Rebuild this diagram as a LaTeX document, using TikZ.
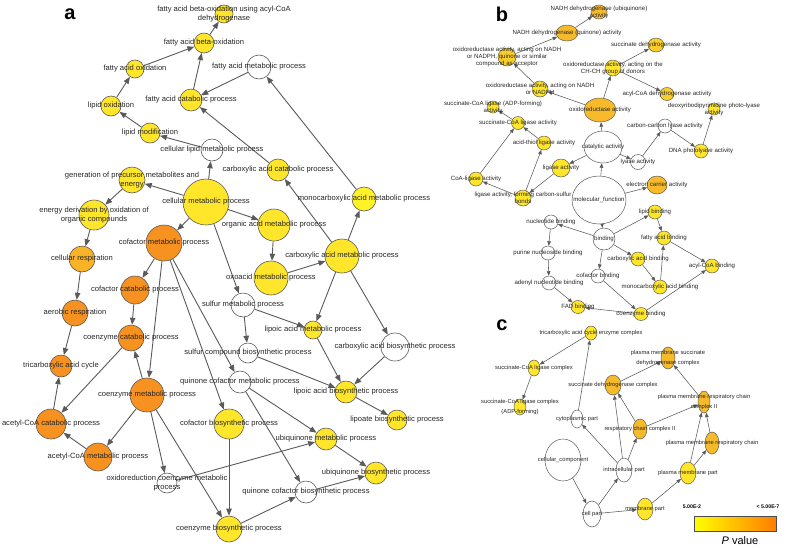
\documentclass[tikz,border=0pt]{standalone}
\usepackage{fontspec}
\setmainfont{Liberation Sans}
\usetikzlibrary{arrows.meta,shapes.geometric,backgrounds}
\definecolor{sarga}{RGB}{255,230,42}
\definecolor{vsarga}{RGB}{255,243,40}
\definecolor{narancs}{RGB}{247,146,32}
\definecolor{vnarancs}{RGB}{250,178,38}
\definecolor{bnarancs}{RGB}{247,186,42}
\definecolor{fsarga}{RGB}{250,205,40}
\definecolor{perem}{RGB}{90,90,90}
\tikzset{
  kor/.style={circle,draw=perem,line width=.6pt,inner sep=0pt},
  tojas/.style={ellipse,draw=perem,line width=.5pt,inner sep=0pt},
  la/.style={font=\fontsize{7.6}{9.5}\selectfont,text=black!85,inner sep=0pt,align=center},
  lb/.style={font=\fontsize{6.1}{7}\selectfont,text=black!85,inner sep=0pt,align=center},
  lc/.style={font=\fontsize{5.8}{9.5}\selectfont,text=black!85,inner sep=0pt,align=center},
  nyA/.style={draw=perem,line width=.9pt,-{Triangle[length=7pt,width=5.5pt]}},
  nyB/.style={draw=perem,line width=.55pt,-{Triangle[length=4.5pt,width=3.6pt]}},
  betu/.style={font=\bfseries\fontsize{20}{20}\selectfont},
}
\begin{document}
\begin{tikzpicture}[x=1pt,y=-1pt]
  \useasboundingbox (0,0) rectangle (787,547);
  % panel a
  \node[betu] (pa) at (70,14) {a};
  \node[kor,fill=sarga,minimum size=18pt,label={[la]center:{fatty acid beta-oxidation using acyl-CoA\\dehydrogenase}}] (fbu) at (224,14) {};
  \node[kor,fill=sarga,minimum size=20pt,label={[la]center:{fatty acid beta-oxidation}}] (fbo) at (204,43) {};
  \node[kor,fill=sarga,minimum size=18pt,label={[la]center:{fatty acid oxidation}}] (fox) at (135,69) {};
  \node[kor,fill=white,minimum size=24pt,label={[la]center:{fatty acid metabolic process}}] (fme) at (259,67) {};
  \node[kor,fill=sarga,minimum size=22pt,label={[la]center:{fatty acid catabolic process}}] (fca) at (191,100) {};
  \node[kor,fill=sarga,minimum size=20pt,label={[la]center:{lipid oxidation}}] (lox) at (111,106) {};
  \node[kor,fill=sarga,minimum size=20pt,label={[la]center:{lipid modification}}] (lmo) at (150,133) {};
  \node[kor,fill=white,minimum size=22pt,label={[la]center:{cellular lipid metabolic process}}] (clm) at (212,150) {};
  \node[kor,fill=sarga,minimum size=22pt,label={[la]center:{carboxylic acid catabolic process}}] (cac) at (278,170) {};
  \node[kor,fill=sarga,minimum size=26pt,label={[la]center:{generation of precursor metabolites and\\energy}}] (gen) at (132,180) {};
  \node[kor,fill=sarga,minimum size=46pt,label={[la]center:{cellular metabolic process}}] (cmp) at (206,202) {};
  \node[kor,fill=sarga,minimum size=30pt,label={[la]center:{energy derivation by oxidation of\\organic compounds}}] (edo) at (94,215) {};
  \node[kor,fill=vsarga,minimum size=24pt,label={[la]center:{monocarboxylic acid metabolic process}}] (mon) at (364,199) {};
  \node[kor,fill=sarga,minimum size=32pt,label={[la]center:{organic acid metabolic process}}] (oam) at (274,225) {};
  \node[kor,fill=narancs,minimum size=36pt,label={[la]center:{cofactor metabolic process}}] (cof) at (164,243) {};
  \node[kor,fill=vnarancs,minimum size=26pt,label={[la]center:{cellular respiration}}] (cre) at (82,259) {};
  \node[kor,fill=sarga,minimum size=34pt,label={[la]center:{carboxylic acid metabolic process}}] (cam) at (342,256) {};
  \node[kor,fill=sarga,minimum size=34pt,label={[la]center:{oxoacid metabolic process}}] (oxo) at (271,278) {};
  \node[kor,fill=narancs,minimum size=28pt,label={[la]center:{cofactor catabolic process}}] (cfc) at (135,290) {};
  \node[kor,fill=white,minimum size=24pt,label={[la]center:{sulfur metabolic process}}] (smp) at (243,305) {};
  \node[kor,fill=narancs,minimum size=26pt,label={[la]center:{aerobic respiration}}] (aer) at (75,313) {};
  \node[kor,fill=narancs,minimum size=26pt,label={[la]center:{coenzyme catabolic process}}] (coc) at (131,338) {};
  \node[kor,fill=sarga,minimum size=18pt,label={[la]center:{lipoic acid metabolic process}}] (lam) at (313,330) {};
  \node[kor,fill=white,minimum size=20pt,label={[la]center:{sulfur compound biosynthetic process}}] (scb) at (248,353) {};
  \node[kor,fill=white,minimum size=28pt,label={[la]center:{carboxylic acid biosynthetic process}}] (cab) at (395,347) {};
  \node[kor,fill=narancs,minimum size=22pt,label={[la]center:{tricarboxylic acid cycle}}] (tca) at (61,366) {};
  \node[kor,fill=narancs,minimum size=34pt,label={[la]center:{coenzyme metabolic process}}] (com) at (147,395) {};
  \node[kor,fill=white,minimum size=22pt,label={[la]center:{quinone cofactor metabolic process}}] (qcm) at (240,382) {};
  \node[kor,fill=sarga,minimum size=22pt,label={[la]center:{lipoic acid biosynthetic process}}] (lab) at (346,392) {};
  \node[kor,fill=narancs,minimum size=30pt,label={[la]center:{acetyl-CoA catabolic process}}] (acc) at (51,424) {};
  \node[kor,fill=sarga,minimum size=30pt,label={[la]center:{cofactor biosynthetic process}}] (cfb) at (229,424) {};
  \node[kor,fill=sarga,minimum size=20pt,label={[la]center:{lipoate biosynthetic process}}] (lpb) at (397,420) {};
  \node[kor,fill=sarga,minimum size=22pt,label={[la]center:{ubiquinone metabolic process}}] (ubm) at (326,439) {};
  \node[kor,fill=narancs,minimum size=28pt,label={[la]center:{acetyl-CoA metabolic process}}] (acm) at (98,457) {};
  \node[kor,fill=white,minimum size=20pt,label={[la]center:{oxidoreduction coenzyme metabolic\\process}}] (ocm) at (167,483) {};
  \node[kor,fill=sarga,minimum size=22pt,label={[la]center:{ubiquinone biosynthetic process}}] (ubb) at (376,473) {};
  \node[kor,fill=white,minimum size=22pt,label={[la]center:{quinone cofactor biosynthetic process}}] (qcb) at (306,492) {};
  \node[kor,fill=sarga,minimum size=26pt,label={[la]center:{coenzyme biosynthetic process}}] (ceb) at (229,529) {};
  % panel b
  \node[betu] (pb) at (502,14) {b};
  \node[tojas,fill=bnarancs,minimum width=16pt,minimum height=14pt,label={[lb]center:{NADH dehydrogenase (ubiquinone)\\activity}}] (nub) at (599,12) {};
  \node[tojas,fill=bnarancs,minimum width=22pt,minimum height=16pt,label={[lb]center:{NADH dehydrogenase (quinone) activity}}] (nqu) at (567,33) {};
  \node[tojas,fill=fsarga,minimum width=18pt,minimum height=18pt,label={[lb]center:{oxidoreductase activity, acting on NADH\\or NADPH, quinone or similar\\compound as acceptor}}] (onq) at (507,57) {};
  \node[tojas,fill=fsarga,minimum width=16pt,minimum height=14pt,label={[lb]center:{succinate dehydrogenase activity}}] (sda) at (656,45) {};
  \node[tojas,fill=sarga,minimum width=16pt,minimum height=16pt,label={[lb]center:{oxidoreductase activity, acting on the\\CH-CH group of donors}}] (och) at (613,68) {};
  \node[tojas,fill=fsarga,minimum width=14pt,minimum height=13pt,label={[lb]center:{acyl-CoA dehydrogenase activity}}] (acd) at (667,94) {};
  \node[tojas,fill=sarga,minimum width=16pt,minimum height=16pt,label={[lb]center:{oxidoreductase activity, acting on NADH\\or NADPH}}] (onn) at (540,89) {};
  \node[tojas,fill=bnarancs,minimum width=32pt,minimum height=24pt,label={[lb]center:{oxidoreductase activity}}] (ora) at (600,110) {};
  \node[tojas,fill=sarga,minimum width=12pt,minimum height=12pt,label={[lb]center:{succinate-CoA ligase (ADP-forming)\\activity}}] (sca) at (493,107) {};
  \node[tojas,fill=sarga,minimum width=12pt,minimum height=12pt,label={[lb]center:{deoxyribodipyrimidine photo-lyase\\activity}}] (dpl) at (714,109) {};
  \node[tojas,fill=white,minimum width=14pt,minimum height=14pt,label={[lb]center:{carbon-carbon lyase activity}}] (ccl) at (665,126) {};
  \node[tojas,fill=sarga,minimum width=13pt,minimum height=13pt,label={[lb]center:{succinate-CoA ligase activity}}] (sla) at (518,123) {};
  \node[tojas,fill=sarga,minimum width=14pt,minimum height=14pt,label={[lb]center:{acid-thiol ligase activity}}] (atl) at (544,143) {};
  \node[tojas,fill=white,minimum width=38pt,minimum height=32pt,label={[lb]center:{catalytic activity}}] (cat) at (603,147) {};
  \node[tojas,fill=sarga,minimum width=14pt,minimum height=14pt,label={[lb]center:{DNA photolyase activity}}] (dna) at (701,151) {};
  \node[tojas,fill=sarga,minimum width=18pt,minimum height=18pt,label={[lb]center:{ligase activity}}] (lig) at (561,168) {};
  \node[tojas,fill=white,minimum width=15pt,minimum height=15pt,label={[lb]center:{lyase activity}}] (lya) at (638,162) {};
  \node[tojas,fill=sarga,minimum width=14pt,minimum height=14pt,label={[lb]center:{CoA-ligase activity}}] (col) at (476,179) {};
  \node[tojas,fill=bnarancs,minimum width=20pt,minimum height=18pt,label={[lb]center:{electron carrier activity}}] (eca) at (657,185) {};
  \node[tojas,fill=sarga,minimum width=16pt,minimum height=16pt,label={[lb]center:{ligase activity, forming carbon-sulfur\\bonds}}] (lfc) at (523,198) {};
  \node[tojas,fill=white,minimum width=54pt,minimum height=48pt,label={[lb]center:{molecular\_function}}] (mfu) at (599,200) {};
  \node[tojas,fill=sarga,minimum width=14pt,minimum height=14pt,label={[lb]center:{lipid binding}}] (lbi) at (655,212) {};
  \node[tojas,fill=white,minimum width=14pt,minimum height=14pt,label={[lb]center:{nucleotide binding}}] (nbi) at (551,222) {};
  \node[tojas,fill=white,minimum width=22pt,minimum height=22pt,label={[lb]center:{binding}}] (bin) at (604,239) {};
  \node[tojas,fill=sarga,minimum width=14pt,minimum height=14pt,label={[lb]center:{fatty acid binding}}] (fab) at (664,238) {};
  \node[tojas,fill=white,minimum width=14pt,minimum height=14pt,label={[lb]center:{purine nucleoside binding}}] (pnb) at (548,253) {};
  \node[tojas,fill=sarga,minimum width=14pt,minimum height=14pt,label={[lb]center:{carboxylic acid binding}}] (cbi) at (638,259) {};
  \node[tojas,fill=sarga,minimum width=14pt,minimum height=14pt,label={[lb]center:{acyl-CoA binding}}] (abi) at (712,266) {};
  \node[tojas,fill=white,minimum width=14pt,minimum height=14pt,label={[lb]center:{cofactor binding}}] (cfbi) at (598,276) {};
  \node[tojas,fill=white,minimum width=14pt,minimum height=14pt,label={[lb]center:{adenyl nucleotide binding}}] (anb) at (549,283) {};
  \node[tojas,fill=sarga,minimum width=14pt,minimum height=14pt,label={[lb]center:{monocarboxylic acid binding}}] (mbi) at (660,287) {};
  \node[tojas,fill=sarga,minimum width=14pt,minimum height=13pt,label={[lb]center:{FAD binding}}] (fad) at (578,307) {};
  \node[tojas,fill=sarga,minimum width=14pt,minimum height=13pt,label={[lb]center:{coenzyme binding}}] (cbn) at (641,314) {};
  % panel c
  \node[betu] (pc) at (502,325) {c};
  \node[tojas,fill=sarga,minimum width=12pt,minimum height=14pt,label={[lc]center:{tricarboxylic acid cycle enzyme complex}}] (tce) at (591,333) {};
  \node[tojas,fill=bnarancs,minimum width=14pt,minimum height=22pt,label={[lc]center:{plasma membrane succinate\\dehydrogenase complex}}] (pms) at (668,358) {};
  \node[tojas,fill=sarga,minimum width=12pt,minimum height=16pt,label={[lc]center:{succinate-CoA ligase complex}}] (slc) at (534,368) {};
  \node[tojas,fill=bnarancs,minimum width=16pt,minimum height=20pt,label={[lc]center:{succinate dehydrogenase complex}}] (sdc) at (613,385) {};
  \node[tojas,fill=bnarancs,minimum width=12pt,minimum height=22pt,label={[lc]center:{plasma membrane respiratory chain\\complex II}}] (pmr) at (704,402) {};
  \node[tojas,fill=sarga,minimum width=12pt,minimum height=16pt,label={[lc]center:{succinate-CoA ligase complex\\(ADP-forming)}}] (sad) at (520,407) {};
  \node[tojas,fill=white,minimum width=12pt,minimum height=18pt,label={[lc]center:{cytoplasmic part}}] (cyp) at (577,419) {};
  \node[tojas,fill=bnarancs,minimum width=14pt,minimum height=20pt,label={[lc]center:{respiratory chain complex II}}] (rcc) at (640,429) {};
  \node[tojas,fill=bnarancs,minimum width=14pt,minimum height=22pt,label={[lc]center:{plasma membrane respiratory chain}}] (pmc) at (712,443) {};
  \node[tojas,fill=white,minimum width=36pt,minimum height=42pt,label={[lc]center:{cellular\_component}}] (cco) at (563,460) {};
  \node[tojas,fill=white,minimum width=16pt,minimum height=24pt,label={[lc]center:{intracellular part}}] (icp) at (624,470) {};
  \node[tojas,fill=sarga,minimum width=16pt,minimum height=22pt,label={[lc]center:{plasma membrane part}}] (pmp) at (688,473) {};
  \node[tojas,fill=white,minimum width=18pt,minimum height=26pt,label={[lc]center:{cell part}}] (cpa) at (592,514) {};
  \node[tojas,fill=sarga,minimum width=16pt,minimum height=22pt,label={[lc]center:{membrane part}}] (mpa) at (645,509) {};
  % legend
  \node[font=\bfseries\fontsize{5.2}{6}\selectfont] (lmin) at (692,507) {5.00E-2};
  \node[font=\bfseries\fontsize{5.2}{6}\selectfont] (lmax) at (768,507) {< 5.00E-7};
  \node[draw=black!70,line width=.5pt,left color=yellow,right color={rgb,255:red,255;green,125;blue,0},minimum width=82pt,minimum height=15pt,inner sep=0pt] (skala) at (735,523.5) {};
  \node[font=\fontsize{11}{12}\selectfont] (pval) at (740,541) {\textit{P} value};
  \begin{scope}[on background layer]
    \draw[nyA] (fbo) -- (fbu);
    \draw[nyA] (fox) -- (fbo);
    \draw[nyA] (fca) -- (fbo);
    \draw[nyA] (fme) -- (fca);
    \draw[nyA] (lox) -- (fox);
    \draw[nyA] (lmo) -- (lox);
    \draw[nyA] (clm) -- (lmo);
    \draw[nyA] (cac) -- (fca);
    \draw[nyA] (cmp) -- (clm);
    \draw[nyA] (mon) -- (fme);
    \draw[nyA] (cam) -- (cac);
    \draw[nyA] (cmp) -- (gen);
    \draw[nyA] (gen) -- (edo);
    \draw[nyA] (edo) -- (cre);
    \draw[nyA] (cre) -- (aer);
    \draw[nyA] (aer) -- (tca);
    \draw[nyA] (acc) -- (tca);
    \draw[nyA] (coc) -- (acc);
    \draw[nyA] (acm) -- (acc);
    \draw[nyA] (com) -- (acm);
    \draw[nyA] (com) -- (coc);
    \draw[nyA] (cof) -- (com);
    \draw[nyA] (cof) -- (cfc);
    \draw[nyA] (cfc) -- (coc);
    \draw[nyA] (cmp) -- (cof);
    \draw[nyA] (cmp) -- (oam);
    \draw[nyA] (cmp) -- (smp);
    \draw[nyA] (oam) -- (oxo);
    \draw[nyA] (oxo) -- (cam);
    \draw[nyA] (cam) -- (mon);
    \draw[nyA] (cam) -- (lam);
    \draw[nyA] (cam) -- (cab);
    \draw[nyA] (smp) -- (lam);
    \draw[nyA] (smp) -- (scb);
    \draw[nyA] (lam) -- (lab);
    \draw[nyA] (cab) -- (lab);
    \draw[nyA] (scb) -- (lab);
    \draw[nyA] (lab) -- (lpb);
    \draw[nyA] (cof) -- (qcm);
    \draw[nyA] (cof) -- (cfb);
    \draw[nyA] (qcm) -- (ubm);
    \draw[nyA] (qcm) -- (qcb);
    \draw[nyA] (ubm) -- (ubb);
    \draw[nyA] (qcb) -- (ubb);
    \draw[nyA] (ceb) -- (qcb);
    \draw[nyA] (cfb) -- (ceb);
    \draw[nyA] (com) -- (ceb);
    \draw[nyA] (com) -- (ocm);
    \draw[nyA] (ocm) -- (ubm);
    % b
    \draw[nyB] (nqu) -- (nub);
    \draw[nyB] (onq) -- (nqu);
    \draw[nyB] (onn) -- (onq);
    \draw[nyB] (ora) -- (onn);
    \draw[nyB] (ora) -- (och);
    \draw[nyB] (och) -- (sda);
    \draw[nyB] (och) -- (acd);
    \draw[nyB] (cat) -- (ora);
    \draw[nyB] (cat) -- (lig);
    \draw[nyB] (cat) -- (lya);
    \draw[nyB] (lya) -- (ccl);
    \draw[nyB] (ccl) -- (dna);
    \draw[nyB] (dna) -- (dpl);
    \draw[nyB] (lig) -- (lfc);
    \draw[nyB] (lfc) -- (atl);
    \draw[nyB] (lfc) -- (col);
    \draw[nyB] (col) -- (sla);
    \draw[nyB] (atl) -- (sla);
    \draw[nyB] (sla) -- (sca);
    \draw[nyB] (mfu) -- (cat);
    \draw[nyB] (mfu) -- (eca);
    \draw[nyB] (mfu) -- (bin);
    \draw[nyB] (bin) -- (nbi);
    \draw[nyB] (bin) -- (lbi);
    \draw[nyB] (bin) -- (cbi);
    \draw[nyB] (bin) -- (cfbi);
    \draw[nyB] (nbi) -- (pnb);
    \draw[nyB] (pnb) -- (anb);
    \draw[nyB] (anb) -- (fad);
    \draw[nyB] (lbi) -- (fab);
    \draw[nyB] (fab) -- (abi);
    \draw[nyB] (mbi) -- (fab);
    \draw[nyB] (cbi) -- (mbi);
    \draw[nyB] (cfbi) -- (cbn);
    \draw[nyB] (cbn) -- (fad);
    \draw[nyB] (cbn) -- (abi);
    % c
    \draw[nyB] (tce) -- (slc);
    \draw[nyB] (slc) -- (sad);
    \draw[nyB] (cyp) -- (tce);
    \draw[nyB] (sdc) -- (pms);
    \draw[nyB] (pmr) -- (pms);
    \draw[nyB] (rcc) -- (sdc);
    \draw[nyB] (rcc) -- (pmr);
    \draw[nyB] (icp) -- (sdc);
    \draw[nyB] (icp) -- (rcc);
    \draw[nyB] (icp) -- (cyp);
    \draw[nyB] (cco) -- (cpa);
    \draw[nyB] (cpa) -- (icp);
    \draw[nyB] (cpa) -- (mpa);
    \draw[nyB] (mpa) -- (pmp);
    \draw[nyB] (pmp) -- (pmc);
    \draw[nyB] (pmp) -- (pmr);
    \draw[nyB] (pmc) -- (pmr);
  \end{scope}
\end{tikzpicture}
\end{document}
